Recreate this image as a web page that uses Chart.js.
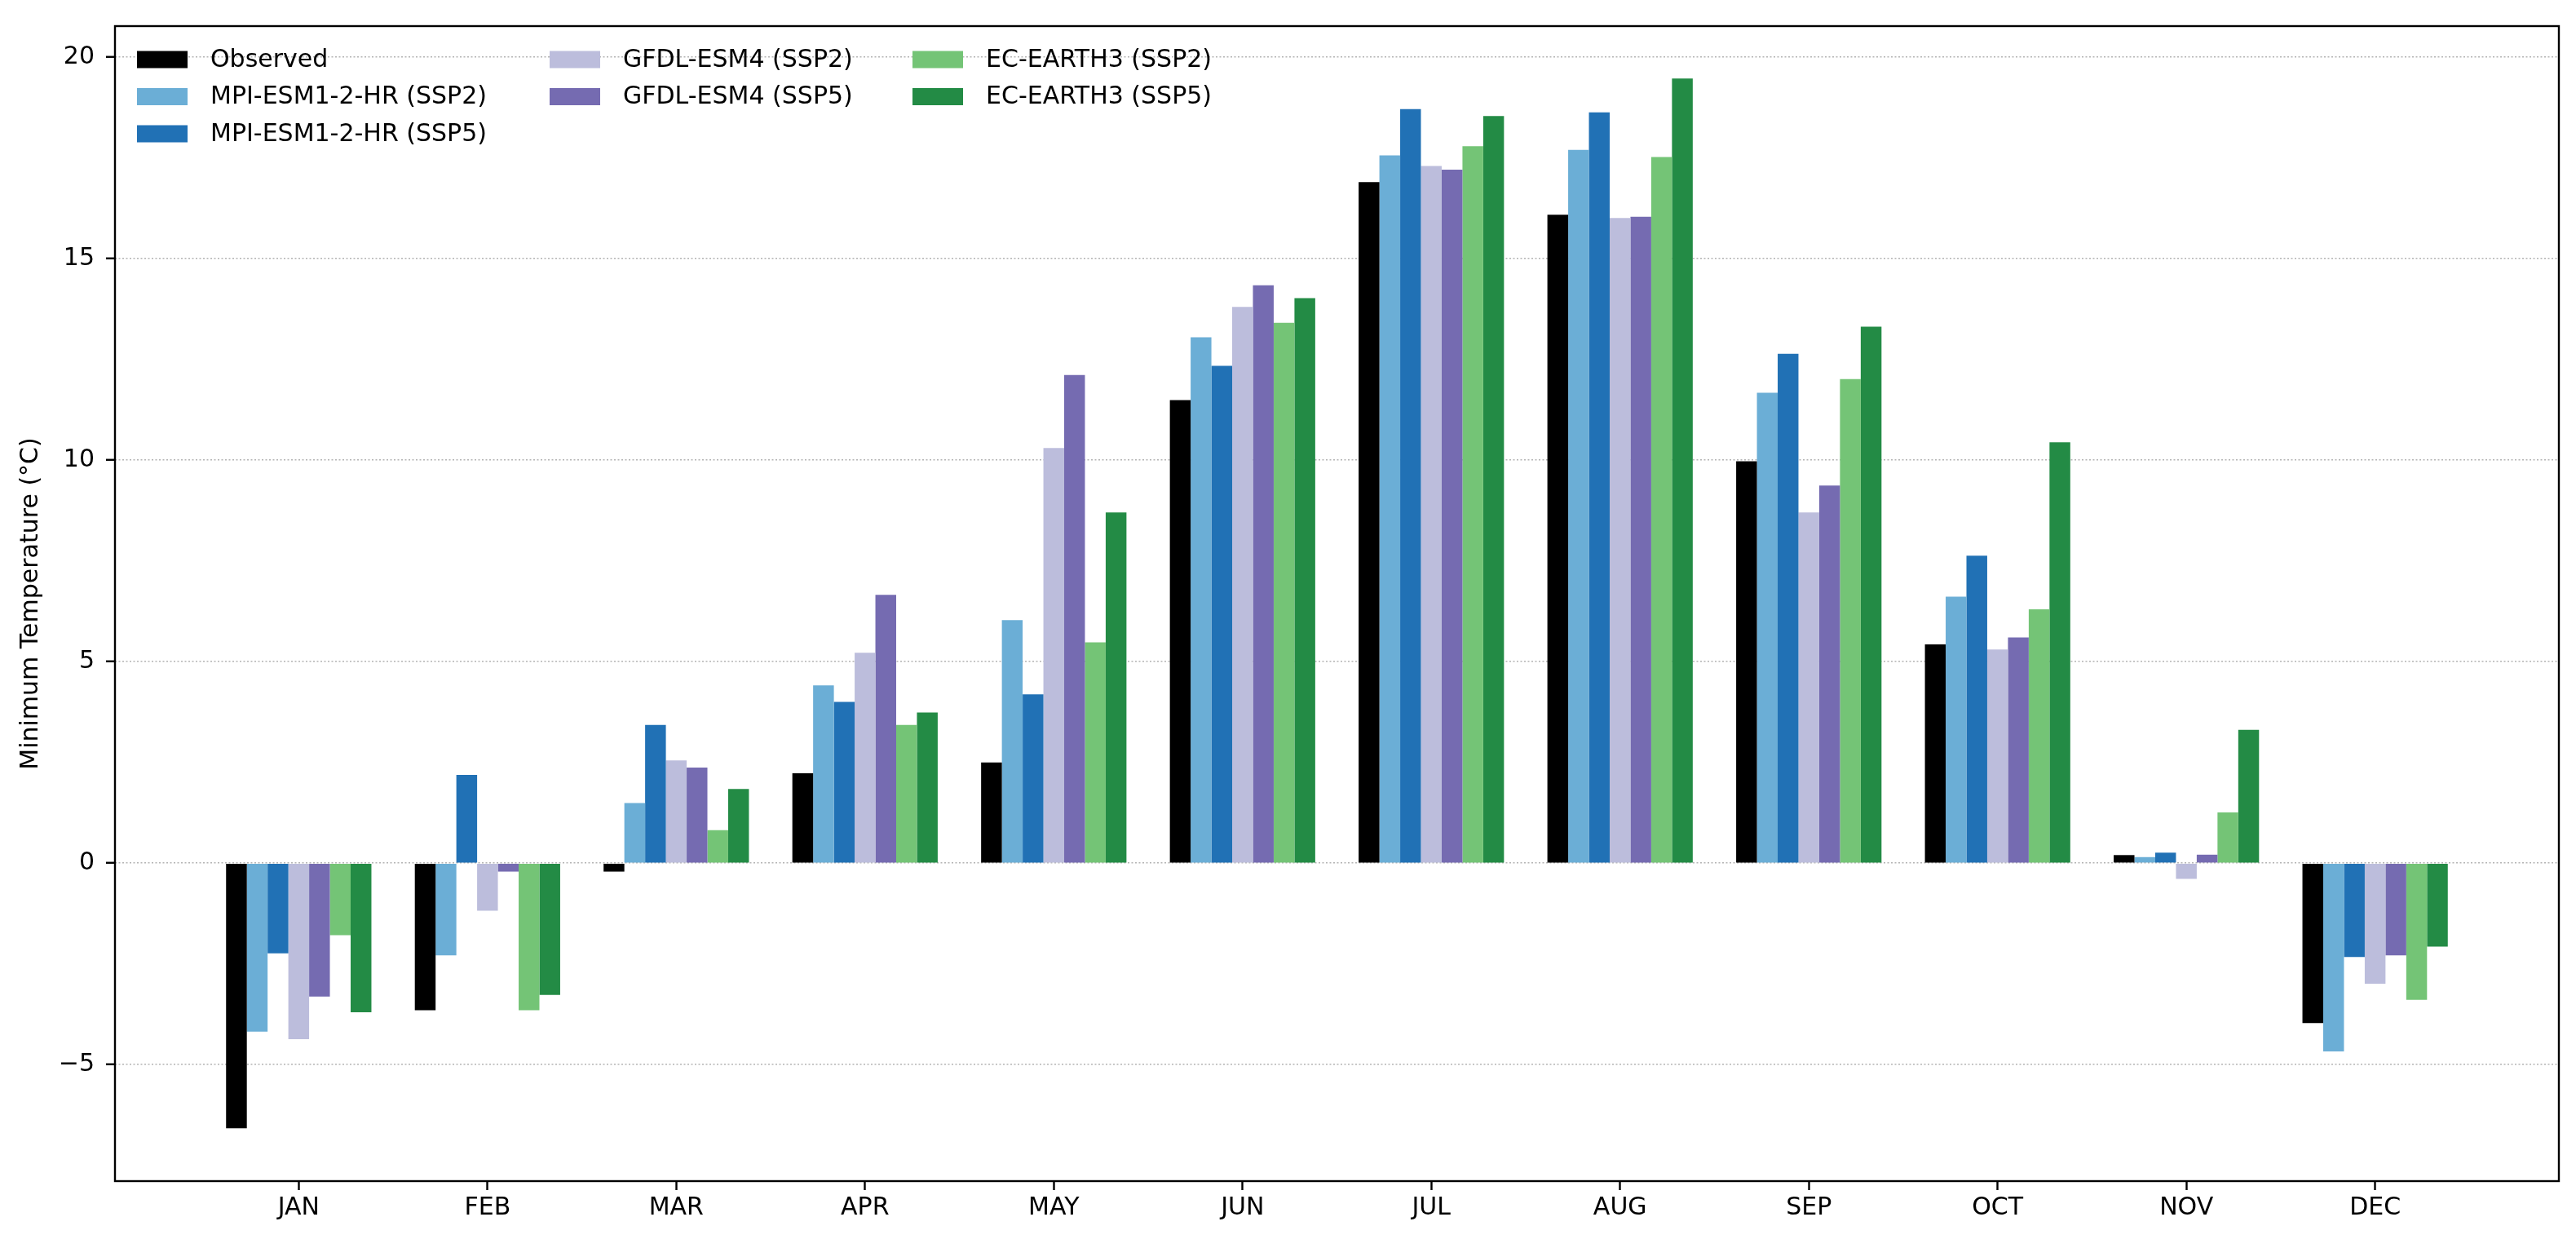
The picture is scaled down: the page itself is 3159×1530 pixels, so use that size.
<!DOCTYPE html>
<html>
<head>
<meta charset="utf-8">
<script src="https://cdn.jsdelivr.net/npm/chart.js@4.4.1/dist/chart.umd.min.js"></script>
<style>
  html, body { margin: 0; padding: 0; background: #fff; overflow: hidden; }
  canvas { display: block; }
</style>
</head>
<body>
<canvas id="myChart" width="3159" height="1530"></canvas>
<script>
'use strict'
// 월 라벨
const months = ["JAN", "FEB", "MAR", "APR", "MAY", "JUN", "JUL", "AUG", "SEP", "OCT", "NOV", "DEC"];
const yTicks = [-5, 0, 5, 10, 15, 20];

// 시리즈 값 (°C)
const observed = [-6.58, -3.65, -0.21, 2.23, 2.50, 11.49, 16.90, 16.09, 9.97, 5.43, 0.20, -3.97];
const mpiSsp2 = [-4.18, -2.29, 1.49, 4.41, 6.03, 13.05, 17.56, 17.70, 11.67, 6.61, 0.15, -4.67];
const mpiSsp5 = [-2.24, 2.19, 3.43, 4.00, 4.19, 12.34, 18.71, 18.63, 12.64, 7.63, 0.26, -2.33];
const gfdlSsp2 = [-4.37, -1.18, 2.55, 5.22, 10.30, 13.80, 17.30, 16.01, 8.70, 5.30, -0.39, -2.99];
const gfdlSsp5 = [-3.31, -0.21, 2.37, 6.66, 12.11, 14.34, 17.21, 16.04, 9.37, 5.60, 0.21, -2.29];
const ecSsp2 = [-1.79, -3.65, 0.82, 3.43, 5.48, 13.41, 17.79, 17.52, 12.01, 6.30, 1.26, -3.39];
const ecSsp5 = [-3.70, -3.27, 1.84, 3.74, 8.70, 14.02, 18.54, 19.47, 13.31, 10.44, 3.31, -2.07];

const FONT = '"DejaVu Sans", "Liberation Sans", sans-serif';
Chart.defaults.color = '#000';
Chart.defaults.font.family = FONT;
Chart.defaults.font.size = 30;

function toPoints(arr) {
  return arr.map((v, i) => ({ x: i, y: v }));
}

function makeSet(label, arr, color) {
  return {
    label: label,
    data: toPoints(arr),
    backgroundColor: color,
    borderWidth: 0,
    categoryPercentage: 0.77,
    barPercentage: 1.0,
  };
}

// 범례 (matplotlib 처럼 열 우선, 프레임 없음)
const legendPlugin = {
  id: 'mplLegend',
  afterDraw(chart) {
    const ctx = chart.ctx;
    const area = chart.chartArea;
    const colX = [27, 533, 978];      // 각 열 견본 위치 (chartArea 기준)
    const cols = [[0, 1, 2], [3, 4], [5, 6]];
    ctx.save();
    ctx.font = '30px ' + FONT;
    ctx.textBaseline = 'middle';
    ctx.textAlign = 'left';
    cols.forEach((list, c) => {
      list.forEach((idx, r) => {
        const ds = chart.data.datasets[idx];
        const x = area.left + colX[c];
        const y = area.top + 41 + r * 45.5;
        ctx.fillStyle = ds.backgroundColor;
        ctx.fillRect(x, y - 10.5, 62, 21);
        ctx.fillStyle = '#000';
        ctx.fillText(ds.label, x + 90, y + 1);
      });
    });
    ctx.restore();
  }
};

// 축 테두리
const framePlugin = {
  id: 'frame',
  afterDraw(chart) {
    const { ctx, chartArea: a } = chart;
    ctx.save();
    ctx.strokeStyle = '#000';
    ctx.lineWidth = 2.4;
    ctx.strokeRect(a.left, a.top, a.right - a.left, a.bottom - a.top);
    ctx.restore();
  }
};

const ctx = document.getElementById('myChart').getContext('2d');
new Chart(ctx, {
  type: 'bar',
  data: {
    datasets: [
      makeSet('Observed', observed, '#000000'),
      makeSet('MPI-ESM1-2-HR (SSP2)', mpiSsp2, '#6baed6'),
      makeSet('MPI-ESM1-2-HR (SSP5)', mpiSsp5, '#2171b5'),
      makeSet('GFDL-ESM4 (SSP2)', gfdlSsp2, '#bcbddc'),
      makeSet('GFDL-ESM4 (SSP5)', gfdlSsp5, '#756bb1'),
      makeSet('EC-EARTH3 (SSP2)', ecSsp2, '#74c476'),
      makeSet('EC-EARTH3 (SSP5)', ecSsp5, '#238b45'),
    ],
  },
  options: {
    responsive: false,
    devicePixelRatio: 1,
    animation: false,
    layout: { padding: { left: 0, top: 29, right: 21, bottom: 0 } },
    plugins: {
      legend: { display: false },
      tooltip: { enabled: false },
    },
    scales: {
      x: {
        type: 'linear',
        offset: false,
        min: -0.9735,
        max: 11.9735,
        afterBuildTicks: (scale) => { scale.ticks = months.map((m, i) => ({ value: i })); },
        afterFit: (scale) => { scale.height = 82; },
        ticks: {
          callback: (v) => months[v],
          padding: 4,
          maxRotation: 0,
          autoSkip: false,
          font: { size: 30 },
        },
        grid: {
          offset: false,
          drawOnChartArea: false,
          drawTicks: true,
          tickLength: 11,
          tickColor: '#000',
          tickWidth: 2.4,
        },
        border: { display: false },
      },
      y: {
        min: -7.89,
        max: 20.77,
        z: 1,
        afterBuildTicks: (scale) => { scale.ticks = yTicks.map(v => ({ value: v })); },
        afterFit: (scale) => { scale.width = 141; },
        ticks: {
          callback: (v) => (v < 0 ? '\u2212' + Math.abs(v) : String(v)),
          padding: 14,
          font: { size: 30 },
        },
        grid: {
          color: 'rgba(160,160,160,0.8)',
          lineWidth: 1.5,
          drawTicks: true,
          tickLength: 11,
          tickColor: '#000',
          tickWidth: 2.4,
          tickBorderDash: [],
        },
        border: { display: false, dash: [2, 2.5] },
        title: {
          display: true,
          text: 'Minimum Temperature (°C)',
          font: { size: 30 },
          padding: { top: 20, bottom: 0 },
        },
      },
    },
  },
  plugins: [legendPlugin, framePlugin],
});
</script>
</body>
</html>
